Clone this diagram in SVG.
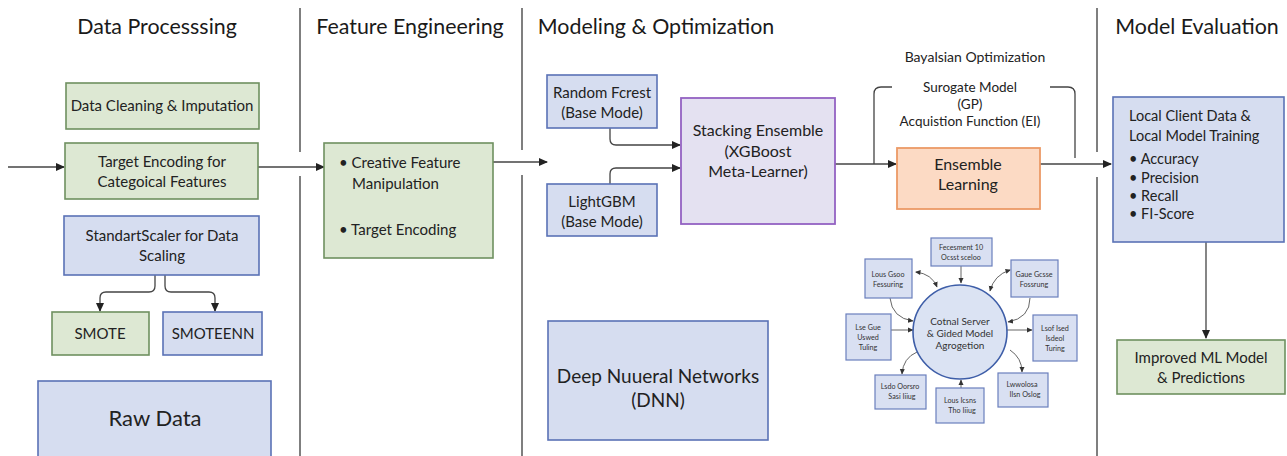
<svg xmlns="http://www.w3.org/2000/svg" width="1287" height="456" viewBox="0 0 1287 456">
<style>
text{font-family:Lato,"Open Sans","Liberation Sans",sans-serif;fill:#222;}
.title{font-size:21.4px;text-anchor:middle;fill:#1a1a1a;}
.t{font-size:15px;text-anchor:middle;}
.tl{font-size:15px;}
.s{font-size:13.5px;text-anchor:middle;}
.tiny{font-size:7.2px;text-anchor:middle;fill:#333;}
.green{fill:#dde8d3;stroke:#6f9060;stroke-width:1.6;}
.blue{fill:#d6ddf0;stroke:#5a72b6;stroke-width:1.6;}
.purple{fill:#e4e1f1;stroke:#9362c2;stroke-width:1.8;}
.orange{fill:#fcdac4;stroke:#ec9a66;stroke-width:1.8;}
.sblue{fill:#d9e0f2;stroke:#6a7fbd;stroke-width:1.2;}
.div{stroke:#555;stroke-width:1.5;fill:none;}
.c{stroke:#444;stroke-width:1.3;fill:none;}
.cs{stroke:#555;stroke-width:0.9;fill:none;}
</style>
<defs>
<marker id="ah" markerWidth="10" markerHeight="10" refX="8" refY="5" orient="auto" markerUnits="userSpaceOnUse">
<path d="M0,1 L9,5 L0,9 Z" fill="#222"/>
</marker>
<marker id="ahs" markerWidth="6" markerHeight="6" refX="5" refY="3" orient="auto" markerUnits="userSpaceOnUse">
<path d="M0,0.5 L5.5,3 L0,5.5 Z" fill="#333"/>
</marker>
<marker id="ahss" markerWidth="6" markerHeight="6" refX="1" refY="3" orient="auto" markerUnits="userSpaceOnUse">
<path d="M5.5,0.5 L0,3 L5.5,5.5 Z" fill="#333"/>
</marker>
</defs>
<rect width="1287" height="456" fill="#ffffff"/>

<g id="titles">
<text class="title" x="157" y="34">Data Processsing</text>
<text class="title" x="410" y="34">Feature Engineering</text>
<text class="title" x="656" y="34">Modeling &amp; Optimization</text>
<text class="title" x="1197" y="34">Model Evaluation</text>
</g>

<g id="dividers">
<path class="div" d="M300,8 V152 M300,176 V456"/>
<path class="div" d="M522,8 V150 M522,175 V456"/>
<path class="div" d="M1097,8 V152 M1097,177 V456"/>
</g>

<g id="connectors">
<path class="c" d="M8,167 H64" marker-end="url(#ah)"/>
<path class="c" d="M258,167 H324" marker-end="url(#ah)"/>
<path class="c" d="M155,275 V286 Q155,292 149,292 H106 Q100,292 100,298 V311" marker-end="url(#ah)"/>
<path class="c" d="M165,275 V286 Q165,292 171,292 H209 Q215,292 215,298 V311" marker-end="url(#ah)"/>
<path class="c" d="M493,162 H547" marker-end="url(#ah)"/>
<path class="c" d="M610,128 V139 Q610,145 616,145 H680" marker-end="url(#ah)"/>
<path class="c" d="M610,184 V174 Q610,168 616,168 H680" marker-end="url(#ah)"/>
<path class="c" d="M835,164 H896" marker-end="url(#ah)"/>
<path class="c" d="M874,164 V94 Q874,87 881,87 H892"/>
<path class="c" d="M1075,158 V94 Q1075,87 1068,87 H1050"/>
<path class="c" d="M1040,164 H1111" marker-end="url(#ah)"/>
<path class="c" d="M1206,242 V338" marker-end="url(#ah)"/>
<path class="cs" d="M961,266 V283" marker-end="url(#ahs)"/>
<path class="cs" d="M916,272 Q932,274 937,287" marker-start="url(#ahss)" marker-end="url(#ahs)"/>
<path class="cs" d="M890,298 Q892,318 913,321" marker-end="url(#ahs)"/>
<path class="cs" d="M891,330 H913" marker-end="url(#ahs)"/>
<path class="cs" d="M917,352 Q903,358 902,374" marker-end="url(#ahs)"/>
<path class="cs" d="M961,388 V380" marker-end="url(#ahs)"/>
<path class="cs" d="M1010,350 Q1022,358 1022,372" marker-end="url(#ahs)"/>
<path class="cs" d="M1007,330 H1032" marker-end="url(#ahs)"/>
<path class="cs" d="M1030,298 Q1030,318 1008,322" marker-end="url(#ahs)"/>
<path class="cs" d="M1010,270 Q994,275 990,291" marker-start="url(#ahss)" marker-end="url(#ahs)"/>
</g>

<g id="data-cleaning">
<rect class="green" x="66" y="83" width="193" height="46"/>
<text class="t" x="162" y="111">Data Cleaning &amp; Imputation</text>
</g>
<g id="target-encoding">
<rect class="green" x="65" y="143" width="193" height="56"/>
<text class="t" x="162" y="167">Target Encoding for</text>
<text class="t" x="162" y="187">Categoical Features</text>
</g>
<g id="standard-scaler">
<rect class="blue" x="64" y="216" width="195" height="59"/>
<text class="t" x="162" y="241">StandartScaler for Data</text>
<text class="t" x="162" y="261">Scaling</text>
</g>
<g id="smote">
<rect class="green" x="52" y="312" width="97" height="43"/>
<text class="t" x="100" y="339">SMOTE</text>
</g>
<g id="smoteenn">
<rect class="blue" x="163" y="312" width="99" height="43"/>
<text class="t" x="213" y="339">SMOTEENN</text>
</g>
<g id="raw-data">
<rect class="blue" x="38" y="381" width="233" height="80"/>
<text x="155" y="426" style="font-size:22px;text-anchor:middle">Raw Data</text>
</g>

<g id="feature-box">
<rect class="green" x="324" y="143" width="169" height="115"/>
<text class="tl" x="339" y="168">• Creative Feature</text>
<text class="tl" x="352" y="189">Manipulation</text>
<text class="tl" x="339" y="235">• Target Encoding</text>
</g>

<g id="random-forest">
<rect class="blue" x="547" y="75" width="110" height="53"/>
<text class="t" x="602" y="98">Random Fcrest</text>
<text class="t" x="602" y="118">(Base Mode)</text>
</g>
<g id="lightgbm">
<rect class="blue" x="547" y="184" width="110" height="52"/>
<text class="t" x="602" y="207">LightGBM</text>
<text class="t" x="602" y="227">(Base Mode)</text>
</g>
<g id="stacking">
<rect class="purple" x="681" y="98" width="154" height="126"/>
<text x="758" y="136" style="font-size:16px;text-anchor:middle">Stacking Ensemble</text>
<text x="758" y="157" style="font-size:16px;text-anchor:middle">(XGBoost</text>
<text x="758" y="177" style="font-size:16px;text-anchor:middle">Meta-Learner)</text>
</g>
<g id="bayesian">
<text x="975" y="62" style="font-size:14px;text-anchor:middle">Bayalsian Optimization</text>
<text class="s" x="970" y="92">Surogate Model</text>
<text class="s" x="970" y="109">(GP)</text>
<text class="s" x="970" y="126">Acquistion Function (EI)</text>
</g>
<g id="ensemble-learning">
<rect class="orange" x="897" y="148" width="143" height="61"/>
<text x="968" y="170" style="font-size:16px;text-anchor:middle">Ensemble</text>
<text x="968" y="190" style="font-size:16px;text-anchor:middle">Learning</text>
</g>
<g id="dnn">
<rect class="blue" x="548" y="321" width="220" height="119"/>
<text x="658" y="383" style="font-size:19px;text-anchor:middle">Deep Nuueral Networks</text>
<text x="658" y="407" style="font-size:19px;text-anchor:middle">(DNN)</text>
</g>

<g id="central-server">
<circle cx="960" cy="332" r="47" fill="#dbe3f3" stroke="#3e5ea8" stroke-width="1.6"/>
<text x="960" y="325" style="font-size:10px;text-anchor:middle;fill:#333">Cotnal Server</text>
<text x="960" y="337" style="font-size:10px;text-anchor:middle;fill:#333">&amp; Gided Model</text>
<text x="960" y="349" style="font-size:10px;text-anchor:middle;fill:#333">Agrogetion</text>
</g>
<g id="fed-top">
<rect class="sblue" x="931" y="238" width="61" height="28"/>
<text class="tiny" x="961" y="250">Fecesment 10</text>
<text class="tiny" x="961" y="260">Ocsst sceloo</text>
</g>
<g id="fed-upper-left">
<rect class="sblue" x="865" y="259" width="47" height="39"/>
<text class="tiny" x="888" y="277">Lous Gsoo</text>
<text class="tiny" x="888" y="287">Fessuring</text>
</g>
<g id="fed-upper-right">
<rect class="sblue" x="1011" y="260" width="47" height="37"/>
<text class="tiny" x="1034" y="277">Gaue Gcsse</text>
<text class="tiny" x="1034" y="287">Fossrung</text>
</g>
<g id="fed-left">
<rect class="sblue" x="846" y="314" width="45" height="46"/>
<text class="tiny" x="868" y="330">Lse Gue</text>
<text class="tiny" x="868" y="340">Uswed</text>
<text class="tiny" x="868" y="350">Tuling</text>
</g>
<g id="fed-right">
<rect class="sblue" x="1033" y="315" width="44" height="46"/>
<text class="tiny" x="1055" y="331">Lsof Ised</text>
<text class="tiny" x="1055" y="341">Isdeol</text>
<text class="tiny" x="1055" y="351">Turing</text>
</g>
<g id="fed-lower-left">
<rect class="sblue" x="875" y="375" width="51" height="34"/>
<text class="tiny" x="900" y="389">Lsdo Oorsro</text>
<text class="tiny" x="902" y="399">Sasi Iiiug</text>
</g>
<g id="fed-bottom">
<rect class="sblue" x="936" y="388" width="48" height="35"/>
<text class="tiny" x="960" y="403">Lous Icsns</text>
<text class="tiny" x="962" y="413">Tho Iiiug</text>
</g>
<g id="fed-lower-right">
<rect class="sblue" x="998" y="373" width="50" height="34"/>
<text class="tiny" x="1022" y="387">Lwwolosa</text>
<text class="tiny" x="1025" y="397">Ilsn Oslog</text>
</g>

<g id="local-client">
<rect class="blue" x="1113" y="97" width="171" height="145"/>
<text x="1129" y="121" style="font-size:14.5px">Local Client Data &amp;</text>
<text x="1129" y="141" style="font-size:14.5px">Local Model Training</text>
<text x="1129" y="164" style="font-size:14.5px">• Accuracy</text>
<text x="1129" y="183" style="font-size:14.5px">• Precision</text>
<text x="1129" y="201" style="font-size:14.5px">• Recall</text>
<text x="1129" y="219" style="font-size:14.5px">• FI-Score</text>
</g>
<g id="improved-model">
<rect class="green" x="1117" y="340" width="168" height="54"/>
<text class="t" x="1201" y="363">Improved ML Model</text>
<text class="t" x="1201" y="383">&amp; Predictions</text>
</g>
</svg>
